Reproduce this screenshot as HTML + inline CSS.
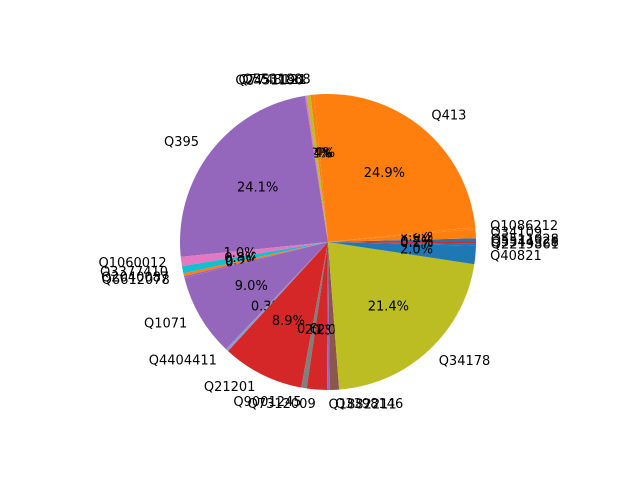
<!DOCTYPE html>
<html><head><meta charset="utf-8"><style>
body{margin:0;background:#fff}
svg{display:block;font-family:"DejaVu Sans","Liberation Sans",sans-serif}
</style></head><body>
<svg id="chart" width="640" height="480" viewBox="0 0 640 480"></svg>
<script>
const labels=["Q5511028","Q34109","Q1086212","Q413","Q5531888","Q7748121","Q2451190","Q395","Q1060012","Q3377410","Q2040087","Q6612078","Q1071","Q4404411","Q21201","Q9001245","Q7312009","Q1882211","Q3398146","Q34178","Q40821","Q2219861","Q5544328"];
const values=[0.4,1.0,0.2,24.9,0.4,0.4,0.2,24.1,1.0,0.8,0.3,0.2,9.0,0.3,8.9,0.6,2.2,0.3,1.0,21.4,2.0,0.2,0.2];
const colors=["#1f77b4","#ff7f0e","#ff7f0e","#ff7f0e","#ff7f0e","#bcbd22","#e377c2","#9467bd","#e377c2","#17becf","#ff7f0e","#9467bd","#9467bd","#8c9bd0","#d62728","#7f7f7f","#d62728","#9467bd","#8c564b","#bcbd22","#1f77b4","#1f77b4","#d62728"];
const svg=document.getElementById('chart');
const NS='http://www.w3.org/2000/svg';
const cx=328,cy=242,R=148;
const total=values.reduce((a,b)=>a+b,0);
let acc=0;
function pt(a,r){return [cx+r*Math.cos(a),cy-r*Math.sin(a)];}
values.forEach((v,i)=>{
  const a0=acc/total*2*Math.PI; acc+=v; const a1=acc/total*2*Math.PI;
  const p0=pt(a0,R),p1=pt(a1,R);
  const large=(a1-a0)>Math.PI?1:0;
  const path=document.createElementNS(NS,'path');
  path.setAttribute('d',`M${cx},${cy} L${p0[0]},${p0[1]} A${R},${R} 0 ${large} 0 ${p1[0]},${p1[1]} Z`);
  path.setAttribute('fill',colors[i]);
  
  
  svg.appendChild(path);
  const m=(a0+a1)/2;
  const lp=pt(m,R*1.1);
  const t=document.createElementNS(NS,'text');
  t.setAttribute('x',lp[0]);t.setAttribute('y',lp[1]);
  t.setAttribute('font-size','13');
  t.setAttribute('dominant-baseline','central');
  t.setAttribute('text-anchor',Math.cos(m)>=0?'start':'end');
  t.textContent=labels[i];
  
  
  svg.appendChild(t);
  const pp=pt(m,R*0.6);
  const q=document.createElementNS(NS,'text');
  q.setAttribute('x',pp[0]);q.setAttribute('y',pp[1]);
  q.setAttribute('font-size','13');
  q.setAttribute('dominant-baseline','central');
  q.setAttribute('text-anchor','middle');
  q.textContent=(v/total*100).toFixed(1)+'%';
  
  
  svg.appendChild(q);
});
</script>
</body></html>
